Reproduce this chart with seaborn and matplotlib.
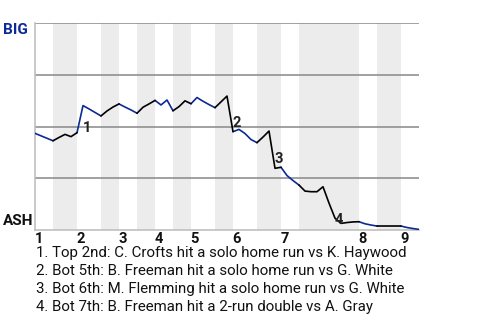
import matplotlib
matplotlib.use('Agg')
import matplotlib.pyplot as plt
import matplotlib.transforms as mtransforms
import seaborn as sns
import pandas as pd

# Win probability for BIG (percent), one value per plate appearance
wp = [46.7, 45.5, 44.3, 43.1, 44.7, 46.2, 45.1, 47.0, 60.1, 58.5,
      56.8, 55.1, 57.5, 59.4, 60.9, 59.4, 58.0, 56.4, 59.3, 60.9,
      62.6, 60.4, 62.8, 57.6, 59.6, 62.4, 61.0, 64.0, 62.2, 60.6,
      59.1, 61.9, 64.7, 47.5, 48.6, 46.6, 43.7, 42.2, 44.9, 47.8,
      29.8, 30.3, 26.3, 23.9, 21.7, 18.8, 18.5, 18.5, 20.9, 13.0,
      5.7, 3.2, 3.6, 3.9, 4.0, 3.0, 2.4, 1.9, 1.9, 1.9,
      1.9, 1.9, 1.2, 0.7, 0.3]

# plate-appearance index where each half inning starts (last = end of game)
half_starts = [0, 3, 7, 11, 14, 17, 20, 23, 26, 30, 33, 37, 41, 44, 54, 57, 61, 64]
innings = ['1', '2', '3', '4', '5', '6', '7', '8', '9']

events = [8, 33, 40, 50]
event_labels = ['1', '2', '3', '4']
notes = [
    "1. Top 2nd: C. Crofts hit a solo home run vs K. Haywood",
    "2. Bot 5th: B. Freeman hit a solo home run vs G. White",
    "3. Bot 6th: M. Flemming hit a solo home run vs G. White",
    "4. Bot 7th: B. Freeman hit a 2-run double vs A. Gray",
]
teams = ['BIG', 'ASH']

BLUE = '#0c2a96'
sns.set_theme(style='white')
plt.rcParams['font.family'] = ['Roboto', 'DejaVu Sans']

rows = []
for h in range(len(half_starts) - 1):
    for i in range(half_starts[h], half_starts[h + 1] + 1):
        rows.append({'pa': i, 'wp': wp[i], 'half': h,
                     'side': 'top' if h % 2 == 0 else 'bottom'})
df = pd.DataFrame(rows)

fig = plt.figure(figsize=(4.8, 3.2), dpi=100)
ax = fig.add_axes([35 / 480, 1 - 230 / 320, 384 / 480, 207 / 320])

for h in range(1, len(half_starts) - 1, 2):
    ax.axvspan(half_starts[h], half_starts[h + 1], color='#ececec', lw=0, zorder=0)
for y in [25, 50, 75, 100]:
    ax.axhline(y, color='#888888', lw=1.1, zorder=1)

sns.lineplot(data=df, x='pa', y='wp', units='half', hue='side',
             palette={'top': BLUE, 'bottom': 'black'}, estimator=None,
             sort=False, legend=False, lw=1.2, ax=ax, zorder=3)

ax.set_xlim(0, len(wp) - 1)
ax.set_ylim(0, 100)
ax.set_xticks([])
ax.set_yticks([])
ax.set_xlabel('')
ax.set_ylabel('')
for s in ['top', 'right']:
    ax.spines[s].set_visible(False)
for s in ['left', 'bottom']:
    ax.spines[s].set_color('#bbbbbb')
    ax.spines[s].set_linewidth(1.1)

trans = mtransforms.blended_transform_factory(ax.transData, ax.transAxes)
for k, lab in enumerate(innings):
    ax.text(half_starts[2 * k] - 0.1, -0.045, lab, transform=trans, ha='left',
            va='center', fontsize=10.5, fontweight='bold', color='#111111')

off = mtransforms.offset_copy(ax.transData, fig=fig, x=0, y=-1.5, units='points')
for e, lab in zip(events, event_labels):
    ymid = (wp[e - 1] + wp[e]) / 2
    ax.text(e - 0.05, ymid, lab, transform=off, ha='left', va='top',
            fontsize=10.5, fontweight='bold', color='#222222', zorder=4)

fig.text(3 / 480, 1 - 30 / 320, teams[0], ha='left', va='center',
         fontsize=11, fontweight='bold', color=BLUE)
fig.text(3 / 480, 1 - 221 / 320, teams[1], ha='left', va='center',
         fontsize=11, fontweight='bold', color='#111111')

for j, t in enumerate(notes):
    fig.text(36 / 480, 1 - (253 + 18 * j) / 320, t, ha='left', va='center',
             fontsize=10.8, color='#111111')

fig.savefig('out.png', dpi=100)
